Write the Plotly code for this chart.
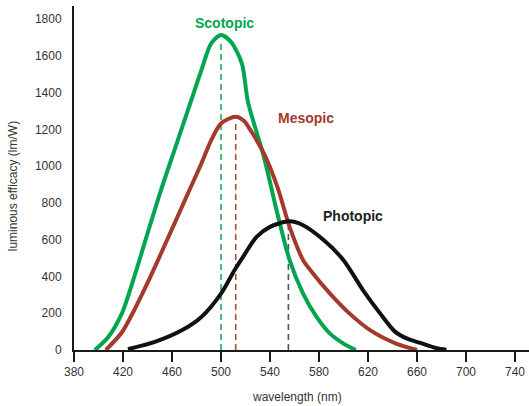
import numpy as np
import plotly.graph_objects as go

# Luminous efficacy curves (wavelength in nm, efficacy in lm/W)
scotopic_wl = [397, 408, 419, 430, 440, 451, 462, 473, 484, 492, 500, 508, 517, 522, 535, 546, 556, 567, 578, 589, 600, 610]
scotopic_val = [0, 71, 198, 416, 634, 870, 1088, 1305, 1523, 1669, 1714, 1678, 1560, 1350, 1051, 743, 489, 307, 180, 89, 35, 0]

mesopic_wl = [406, 419, 429, 440, 451, 462, 473, 484, 492, 500, 512, 519, 524, 535, 546, 556, 567, 573, 589, 605, 622, 643, 660]
mesopic_val = [0, 95, 215, 365, 525, 688, 852, 1015, 1142, 1233, 1269, 1245, 1197, 1070, 888, 670, 489, 434, 307, 198, 107, 35, 0]

photopic_wl = [424, 446, 468, 484, 500, 511, 518, 529, 540, 556, 567, 584, 600, 616, 630, 642, 652, 662, 676, 684]
photopic_val = [5, 44, 107, 180, 307, 434, 507, 615, 670, 700, 679, 597, 489, 325, 198, 100, 62, 40, 10, 2]

series_names = ["Scotopic", "Mesopic", "Photopic"]
peak_wl = [500, 512, 555]

x_ticks = [380, 420, 460, 500, 540, 580, 620, 660, 700, 740]
y_ticks = [0, 200, 400, 600, 800, 1000, 1200, 1400, 1600, 1800]

GREEN = "#00a550"
RED = "#a33a2b"
BLACK = "#111111"
DASH_COLORS = ["#1faa5a", "#b04a3a", "#555555"]

curves = [
    (scotopic_wl, scotopic_val, GREEN),
    (mesopic_wl, mesopic_val, RED),
    (photopic_wl, photopic_val, BLACK),
]

fig = go.Figure()

# dashed drop lines at each curve's peak wavelength
for (wl, val, _), pk, dc in zip(curves, peak_wl, DASH_COLORS):
    top = float(np.interp(pk, wl, val)) - 25
    fig.add_trace(go.Scatter(
        x=[pk, pk], y=[0, top], mode="lines",
        line=dict(color=dc, width=1.6, dash="6px,4px"),
        hoverinfo="skip", showlegend=False,
    ))

for (wl, val, col), name in zip(curves, series_names):
    fig.add_trace(go.Scatter(
        x=wl, y=val, mode="lines", name=name,
        line=dict(color=col, width=4, shape="spline", smoothing=0.8),
        showlegend=False,
    ))

label_pos = [(503, 1781), (569, 1262), (608, 728)]
for name, (lx, ly), col in zip(series_names, label_pos, [GREEN, RED, "#222222"]):
    fig.add_annotation(
        x=lx, y=ly, text=f"<b>{name}</b>", showarrow=False,
        font=dict(family="Liberation Sans, Arial, sans-serif", size=14, color=col),
        xanchor="center", yanchor="middle",
    )

fig.add_annotation(
    text="luminous efficacy (lm/W)", xref="paper", yref="paper",
    x=-0.134, y=0.476, textangle=-90, showarrow=False,
    font=dict(family="Liberation Sans, Arial, sans-serif", size=12, color="#333333"),
    xanchor="center", yanchor="middle",
)
fig.add_annotation(
    text="wavelength (nm)", xref="paper", yref="paper",
    x=0.49, y=-0.137, showarrow=False,
    font=dict(family="Liberation Sans, Arial, sans-serif", size=12, color="#333333"),
    xanchor="center", yanchor="middle",
)

fig.update_layout(
    width=529, height=406,
    margin=dict(l=74, r=0, t=6, b=56),
    paper_bgcolor="white", plot_bgcolor="white",
    font=dict(family="Liberation Sans, Arial, sans-serif", size=12, color="#333333"),
    xaxis=dict(
        range=[380, 751.4], tickvals=x_ticks, ticktext=[str(v) for v in x_ticks],
        showline=True, linewidth=2, linecolor="#1a1a1a",
        ticks="outside", ticklen=10, tickwidth=2, tickcolor="#1a1a1a",
        showgrid=False, zeroline=False,
    ),
    yaxis=dict(
        range=[0, 1872], tickvals=y_ticks, ticktext=[str(v) for v in y_ticks],
        showline=True, linewidth=2, linecolor="#1a1a1a",
        ticks="", ticklabelstandoff=8,
        showgrid=False, zeroline=False,
    ),
)

fig.write_html("out.html")
